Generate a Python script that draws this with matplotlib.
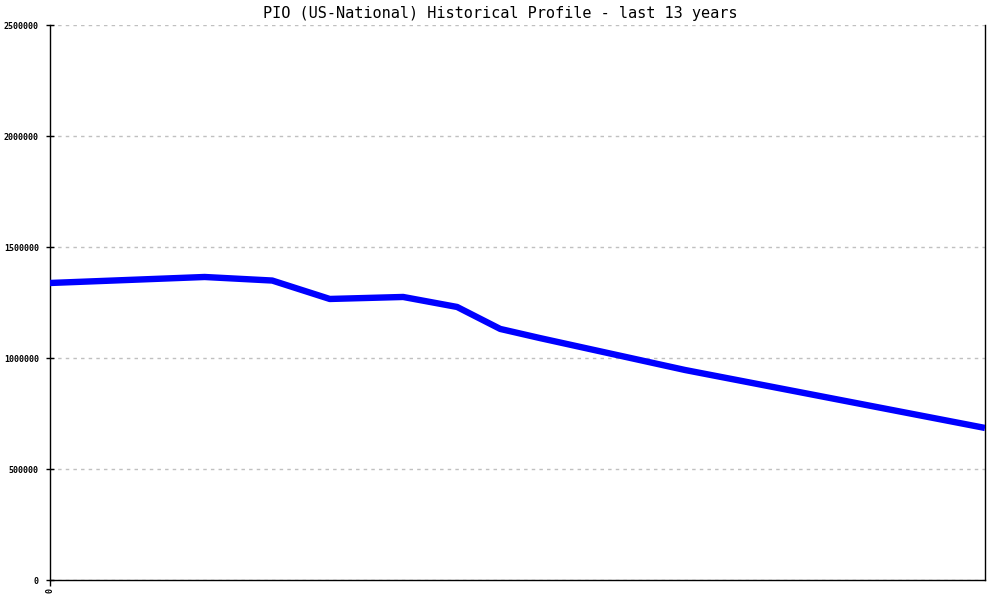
import matplotlib
matplotlib.use("Agg")
import matplotlib.pyplot as plt
from matplotlib.ticker import FixedLocator

title = "PIO (US-National) Historical Profile - last 13 years"
years = [0.0, 2.15, 3.09, 3.89, 4.91, 5.66, 6.26, 6.81, 8.83, 13.0]
members = [1338000, 1365000, 1349000, 1266000, 1275000, 1230000, 1131000, 1090000, 946000, 685000]
y_ticks = [0, 500000, 1000000, 1500000, 2000000, 2500000]
x_ticks = [0]

fig = plt.figure(figsize=(10, 6), dpi=100)
ax = fig.add_axes([0.05, 0.0333, 0.935, 0.925])

ax.plot(years, members, color="#0000ff", linewidth=4.6, solid_joinstyle="round",
        solid_capstyle="butt", zorder=3)

ax.set_xlim(0, 13)
ax.set_ylim(0, 2500000)
ax.yaxis.set_major_locator(FixedLocator(y_ticks))
ax.xaxis.set_major_locator(FixedLocator(x_ticks))
ax.set_yticklabels([str(v) for v in y_ticks], fontsize=6, family="DejaVu Sans Mono",
                   fontweight="bold")
ax.set_xticklabels([str(v) for v in x_ticks], fontsize=6, family="DejaVu Sans Mono",
                   fontweight="bold", rotation=90)

ax.grid(axis="y", color="#c0c0c0", linestyle=(0, (2.5, 3)), linewidth=1.0, zorder=1)
ax.grid(axis="x", visible=False)

for s in ["left", "bottom", "right"]:
    ax.spines[s].set_color("black")
    ax.spines[s].set_linewidth(1.0)
ax.spines["top"].set_visible(False)

ax.tick_params(axis="y", direction="inout", length=6, width=1.0, pad=5)
ax.tick_params(axis="x", direction="out", length=4, width=1.0, pad=2)

fig.text(0.5, 0.978, title, ha="center", va="center", fontsize=11,
         family="DejaVu Sans Mono")

fig.savefig("out.png", dpi=100, facecolor="white")
